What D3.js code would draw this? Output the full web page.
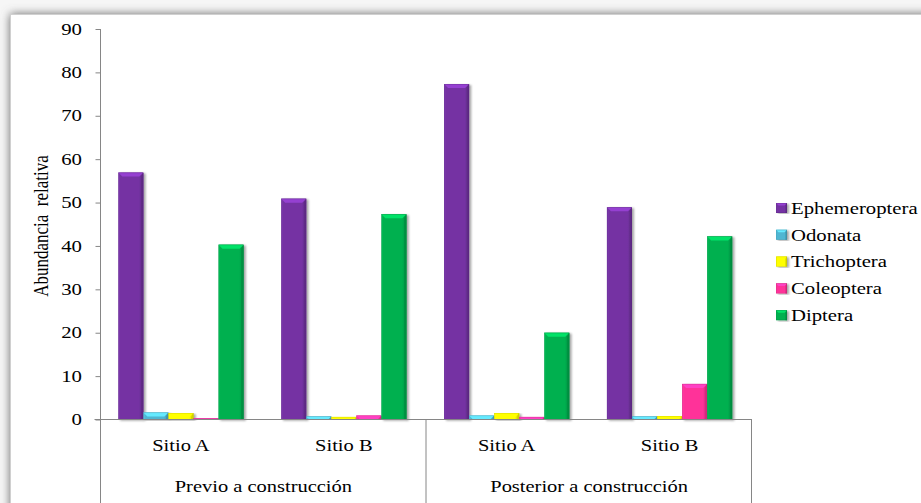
<!DOCTYPE html>
<html>
<head>
<meta charset="utf-8">
<script src="https://cdn.jsdelivr.net/npm/d3@7"></script>
<style>
  html, body { margin: 0; padding: 0; background: #ffffff; }
  svg { display: block; }
</style>
</head>
<body>
<script>
// Abundancia relativa por orden, sitio y periodo
const sites = ["Sitio A", "Sitio B", "Sitio A", "Sitio B"];
const periods = ["Previo a construcción", "Posterior a construcción"];
const orders = ["Ephemeroptera", "Odonata", "Trichoptera", "Coleoptera", "Diptera"];
const ephemeroptera = [56.9, 50.9, 77.3, 48.9];
const odonata = [1.6, 0.7, 0.9, 0.7];
const trichoptera = [1.5, 0.6, 1.5, 0.8];
const coleoptera = [0.3, 0.9, 0.6, 8.2];
const diptera = [40.3, 47.3, 20.0, 42.2];
const yTicks = [0, 10, 20, 30, 40, 50, 60, 70, 80, 90];
const colors = ["#7433a3", "#4fb6d2", "#ffff00", "#ff3399", "#00b050"];

const values = [ephemeroptera, odonata, trichoptera, coleoptera, diptera];
const FONT = "'Liberation Serif', 'Times New Roman', 'DejaVu Serif', serif";

const W = 921, H = 503;
const svg = d3.select("body").append("svg").attr("width", W).attr("height", H);
const defs = svg.append("defs");

// frame shadow
const fs = defs.append("filter").attr("id", "frameShadow")
  .attr("x", "-5%").attr("y", "-5%").attr("width", "110%").attr("height", "110%");
fs.append("feGaussianBlur").attr("in", "SourceAlpha").attr("stdDeviation", 5).attr("result", "b");
fs.append("feFlood").attr("flood-color", "#6a6a6a").attr("result", "f");
fs.append("feComposite").attr("in", "f").attr("in2", "b").attr("operator", "in").attr("result", "s");
const fm = fs.append("feMerge");
fm.append("feMergeNode").attr("in", "s");
fm.append("feMergeNode").attr("in", "SourceGraphic");

// bar shadow
const bs = defs.append("filter").attr("id", "barShadow")
  .attr("x", "-30%").attr("y", "-10%").attr("width", "160%").attr("height", "120%");
bs.append("feGaussianBlur").attr("in", "SourceAlpha").attr("stdDeviation", 1.2).attr("result", "b");
bs.append("feOffset").attr("in", "b").attr("dx", 2).attr("dy", 1).attr("result", "o");
bs.append("feComponentTransfer").attr("in", "o").attr("result", "s")
  .append("feFuncA").attr("type", "linear").attr("slope", 0.35);
const bm = bs.append("feMerge");
bm.append("feMergeNode").attr("in", "s");
bm.append("feMergeNode").attr("in", "SourceGraphic");

svg.append("rect").attr("width", W).attr("height", H).attr("fill", "#f6f6f6");
svg.append("rect").attr("x", 10).attr("y", 14).attr("width", W + 40).attr("height", H + 40)
  .attr("fill", "#ffffff").attr("filter", "url(#frameShadow)");
svg.append("rect").attr("x", 10.5).attr("y", 14.5).attr("width", W + 40).attr("height", H + 40)
  .attr("fill", "none").attr("stroke", "#d0d0d0").attr("stroke-width", 1);

// gradients per colour
colors.forEach((c, i) => {
  const g = defs.append("linearGradient").attr("id", "bar" + i)
    .attr("x1", "0%").attr("x2", "100%").attr("y1", "0%").attr("y2", "0%");
  const base = d3.color(c);
  g.append("stop").attr("offset", "0%").attr("stop-color", base.brighter(0.25));
  g.append("stop").attr("offset", "8%").attr("stop-color", base);
  g.append("stop").attr("offset", "82%").attr("stop-color", base);
  g.append("stop").attr("offset", "100%").attr("stop-color", base.darker(0.5));
});

const plot = { left: 100.5, right: 751.5, top: 29, bottom: 419.5 };

const x0 = d3.scaleBand().domain(d3.range(sites.length)).range([99.5, 751]).padding(0);
const x1 = d3.scaleBand().domain(orders).range([0, x0.bandwidth()])
  .paddingInner(0).paddingOuter(0.75);
const y = d3.scaleLinear().domain([0, 90]).range([plot.bottom, plot.top]);

// horizontally widened text, anchored at (x, y)
function label(g, str, x, yy, size, anchor, sx) {
  return g.append("text")
    .attr("transform", `translate(${x},${yy}) scale(${sx},1)`)
    .attr("text-anchor", anchor)
    .attr("dominant-baseline", "central")
    .style("font-family", FONT)
    .style("font-size", size + "px")
    .style("fill", "#000")
    .text(str);
}

// beveled bar
function bar(g, x, yTop, w, h, ci, bev) {
  const b = Math.min(bev, h);
  const c = d3.color(colors[ci]);
  const grp = g.append("g").attr("filter", "url(#barShadow)");
  grp.append("rect").attr("x", x).attr("y", yTop).attr("width", w).attr("height", h)
    .attr("fill", `url(#bar${ci})`);
  grp.append("polygon")
    .attr("points", [[x, yTop], [x + w, yTop], [x + w - b, yTop + b], [x + b, yTop + b]].join(" "))
    .attr("fill", c.brighter(0.7));
  if (h > b) {
    const bs2 = Math.min(bev * 0.6, w / 4);
    grp.append("polygon")
      .attr("points", [[x + w, yTop], [x + w, yTop + h], [x + w - bs2, yTop + h], [x + w - bs2, yTop + b]].join(" "))
      .attr("fill", c.darker(0.6)).attr("opacity", 0.8);
  }
  grp.append("rect").attr("x", x + 0.25).attr("y", yTop + 0.25).attr("width", w - 0.5).attr("height", Math.max(h - 0.5, 0))
    .attr("fill", "none").attr("stroke", c.darker(0.8)).attr("stroke-width", 0.5).attr("opacity", 0.6);
}

const gBars = svg.append("g");
sites.forEach((s, si) => {
  orders.forEach((o, oi) => {
    const v = values[oi][si];
    const xx = x0(si) + x1(o);
    const yt = y(v);
    bar(gBars, xx, yt, x1.bandwidth(), y(0) - yt, oi, 4);
  });
});

// axes
const axisColor = "#868686";
const yAxis = d3.axisLeft(y).tickValues(yTicks).tickSize(5).tickPadding(0).tickFormat(() => "");
const gy = svg.append("g").attr("transform", `translate(${plot.left},0)`).call(yAxis);
gy.select(".domain").remove();
gy.selectAll("line").attr("stroke", axisColor);
svg.append("line").attr("x1", plot.left).attr("x2", plot.left)
  .attr("y1", plot.top).attr("y2", H).attr("stroke", axisColor);
yTicks.forEach(t => label(svg, String(t), 82, y(t), 16, "end", 1.3));

svg.append("line").attr("x1", 94.5).attr("x2", 752).attr("y1", plot.bottom).attr("y2", plot.bottom)
  .attr("stroke", axisColor);
// period separators
[426, 751.5].forEach(xx =>
  svg.append("line").attr("x1", xx).attr("x2", xx).attr("y1", plot.bottom).attr("y2", H)
    .attr("stroke", axisColor));

sites.forEach((s, si) => label(svg, s, x0(si) + x0.bandwidth() / 2, 446, 16, "middle", 1.28));
periods.forEach((p, pi) => {
  const cx = (x0(pi * 2) + x0(pi * 2 + 1) + x0.bandwidth()) / 2;
  label(svg, p, cx + 1, 487, 16, "middle", 1.28);
});

// y title
svg.append("text")
  .attr("transform", `translate(41,226) scale(1.25,1) rotate(-90)`)
  .attr("text-anchor", "middle").attr("dominant-baseline", "central")
  .style("font-family", FONT)
  .style("font-size", "17px")
  .style("white-space", "pre")
  .text("Abundancia  relativa");

// legend
const lg = svg.append("g");
orders.forEach((o, i) => {
  const yy = 208 + i * 26.8;
  bar(lg, 776, yy - 5, 11, 10, i, 2.5);
  label(lg, o, 791, yy, 17, "start", 1.22);
});
</script>
</body>
</html>
